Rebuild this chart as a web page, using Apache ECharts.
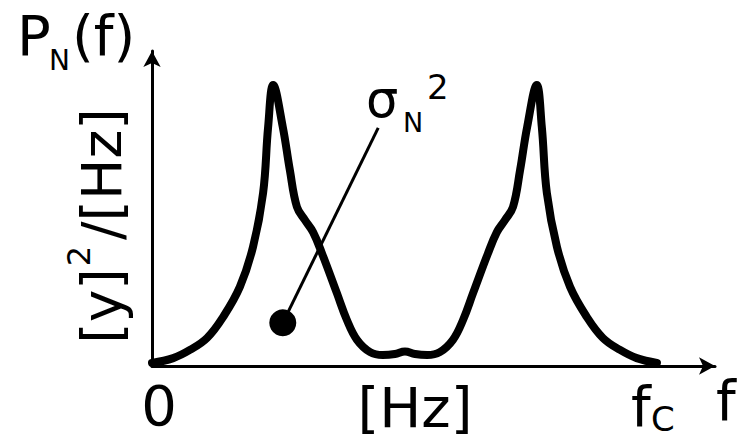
<!DOCTYPE html>
<html lang="en">
<head>
    <meta charset="UTF-8">
    <title>P_N(f)</title>
    <style>
        html, body { margin: 0; padding: 0; background: #fff; }
        .chart { width: 750px; height: 439px; }
    </style>
    <script src="https://cdn.jsdelivr.net/npm/echarts@6/dist/echarts.min.js"></script>
</head>
<body>
    <div class="chart"></div>
    <script>
        // frequency, as a fraction of f_C
        var freq = [0, 0.042, 0.075, 0.109, 0.141, 0.174, 0.200, 0.220, 0.230, 0.240,
            0.259, 0.273, 0.287, 0.303, 0.319, 0.337, 0.366, 0.386, 0.406, 0.432, 0.457, 0.481,
            0.501,
            0.521, 0.545, 0.570, 0.596, 0.616, 0.636, 0.665, 0.683, 0.699, 0.715, 0.729, 0.743,
            0.762, 0.772, 0.782, 0.802, 0.828, 0.861, 0.893, 0.927, 0.960, 1.0];

        // noise power density (relative)
        var psd = [0.010, 0.025, 0.051, 0.089, 0.156, 0.251, 0.378, 0.549, 0.759, 0.892,
            0.759, 0.622, 0.505, 0.463, 0.425, 0.356, 0.232, 0.146, 0.083, 0.044, 0.035, 0.038,
            0.046,
            0.038, 0.035, 0.044, 0.083, 0.146, 0.232, 0.356, 0.425, 0.463, 0.505, 0.622, 0.759,
            0.892, 0.759, 0.549, 0.378, 0.251, 0.156, 0.089, 0.051, 0.025, 0.010];

        // pointer from the area to the sigma_N^2 label
        var pointerStart = [0.259, 0.137];
        var pointerEnd = [0.448, 0.756];

        var font = '"DejaVu Sans", Verdana, sans-serif';

        function txt(text, x, y, size, align) {
            return {
                type: 'text', x: x, y: y, silent: true,
                style: {
                    text: text, fill: '#000',
                    font: size + 'px ' + font,
                    textAlign: align || 'left',
                    textVerticalAlign: 'middle'
                }
            };
        }

        var option = {
            animation: false,
            grid: { left: 152, right: 35, top: 51, bottom: 73 },
            xAxis: {
                type: 'value', min: 0, max: 1.115,
                splitLine: { show: false },
                axisTick: { show: false },
                axisLabel: { show: false },
                axisLine: {
                    show: true, symbol: ['none', 'arrow'], symbolSize: [13, 16],
                    lineStyle: { color: '#000', width: 3 }
                }
            },
            yAxis: {
                type: 'value', min: 0, max: 1,
                splitLine: { show: false },
                axisTick: { show: false },
                axisLabel: { show: false },
                axisLine: {
                    show: true, symbol: ['none', 'arrow'], symbolSize: [13, 16],
                    lineStyle: { color: '#000', width: 3 }
                }
            },
            series: [
                {
                    type: 'line',
                    data: freq.map(function (f, i) { return [f, psd[i]]; }),
                    smooth: 0.4,
                    showSymbol: false,
                    lineStyle: { color: '#000', width: 8, cap: 'round', join: 'round' }
                },
                {
                    type: 'line',
                    data: [pointerStart, pointerEnd],
                    showSymbol: false,
                    lineStyle: { color: '#000', width: 3 }
                },
                {
                    type: 'scatter',
                    data: [pointerStart],
                    symbolSize: 27,
                    itemStyle: { color: '#000', opacity: 1 }
                }
            ],
            graphic: [
                txt('P', 17, 35, 56),
                txt('N', 49, 60, 28),
                txt('(f)', 72, 35, 56),
                txt('\u03c3', 366, 99, 51),
                txt('N', 403, 122, 27),
                txt('2', 427, 87, 34),
                txt('0', 159, 405, 56, 'center'),
                txt('[Hz]', 415, 407, 56, 'center'),
                txt('f', 631, 406, 56),
                txt('C', 651, 419, 34),
                txt('f', 716, 400, 56),
                {
                    type: 'text', x: 92, y: 226, rotation: Math.PI / 2, silent: true,
                    style: {
                        text: '{m|[y]}{s|2}{m|/[Hz]}',
                        textAlign: 'center', textVerticalAlign: 'middle',
                        rich: {
                            m: { font: '55px ' + font, fill: '#000', lineHeight: 58, padding: [19, 0, 0, 0] },
                            s: { font: '32px ' + font, fill: '#000', lineHeight: 32, verticalAlign: 'top', padding: [0, 6, 0, 2] }
                        }
                    }
                }
            ]
        };

        var chart = echarts.init(document.querySelector('.chart'), null, { renderer: 'svg' });
        chart.setOption(option);
    </script>
</body>
</html>
